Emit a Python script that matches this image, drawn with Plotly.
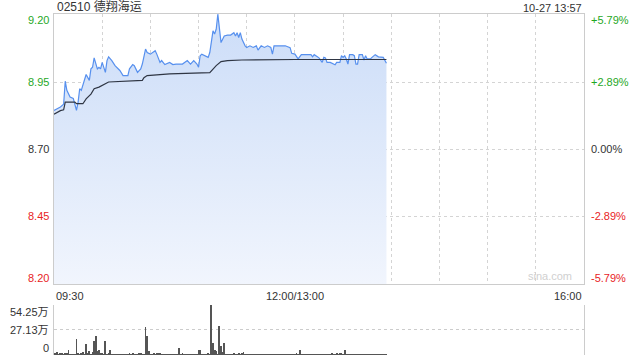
import plotly.graph_objects as go

# ---------------- data ----------------
title_text = "02510 德翔海运"
stamp_text = "10-27 13:57"
prev_close = 8.70

price_times = ["09:30","09:32","09:34","09:36","09:37","09:38","09:40","09:42","09:43","09:44",
               "09:45","09:46","09:47","09:49","09:50","09:52","09:53","09:54","09:55","09:57",
               "09:58","09:59","10:00","10:02","10:03","10:04","10:06","10:08","10:11","10:13",
               "10:16","10:17","10:19","10:20","10:22","10:24","10:25","10:27","10:28","10:30",
               "10:33","10:34","10:36","10:37","10:39","10:42","10:44","10:46","10:50","10:53",
               "10:55","10:57","10:59","11:00","11:01","11:02","11:04","11:06","11:07","11:09",
               "11:10","11:11","11:12","11:13","11:14","11:16","11:18","11:20","11:21","11:22",
               "11:23","11:24","11:25","11:26","11:27","11:29","11:30","11:32","11:34","11:36",
               "11:37","11:39","11:41","11:43","11:45","11:46","11:47","11:51","11:54","11:57",
               "11:58","12:00","13:02","13:04","13:06","13:10","13:11","13:12","13:14","13:15",
               "13:17","13:18","13:19","13:20","13:22","13:23","13:25","13:26","13:28","13:29",
               "13:30","13:31","13:32","13:33","13:34","13:36","13:37","13:38","13:39","13:40",
               "13:42","13:43","13:44","13:45","13:47","13:48","13:50","13:52","13:54","13:55",
               "13:57"]
price_values = [8.844,8.849,8.857,8.867,8.953,8.919,8.894,8.889,8.869,8.844,
                8.875,8.925,8.919,8.956,8.978,8.956,8.999,9.005,9.040,8.999,
                9.005,8.999,9.023,8.986,9.030,9.044,9.030,9.011,8.993,8.974,
                8.974,8.999,9.015,9.011,8.986,8.999,9.017,9.073,9.060,9.054,
                9.067,9.054,9.023,9.030,9.015,9.023,9.015,9.017,9.017,9.030,
                9.017,9.030,9.017,9.005,9.048,9.054,9.048,9.042,9.060,9.141,
                9.129,9.147,9.203,9.134,9.097,9.122,9.125,9.125,9.129,9.134,
                9.122,9.134,9.116,9.134,9.110,9.085,9.079,9.085,9.079,9.085,
                9.069,9.085,9.079,9.085,9.079,9.054,9.085,9.085,9.085,9.078,
                9.057,9.054,9.036,9.052,9.052,9.052,9.044,9.052,9.044,9.040,
                9.023,9.042,9.040,9.023,9.023,9.020,9.014,9.023,9.023,9.048,
                9.042,9.048,9.036,9.017,9.052,9.052,9.048,9.017,9.017,9.052,
                9.052,9.032,9.048,9.036,9.036,9.042,9.052,9.044,9.044,9.042,
                9.020]

avg_times = ["09:30","09:34","09:36","09:37","09:43","09:44","09:48","09:50","09:53","09:55",
             "09:58","10:04","10:25","10:26","10:28","10:42","11:07","11:09","11:11","11:14",
             "11:18","11:27","11:45","12:00","13:57"]
avg_values = [8.830,8.843,8.846,8.875,8.875,8.869,8.869,8.887,8.905,8.925,
              8.931,8.950,8.956,8.966,8.974,8.980,8.985,9.000,9.011,9.026,
              9.030,9.032,9.033,9.034,9.034]

# per-minute volume (万), from 09:30 onwards (morning then 13:00 onwards)
volume_wan = [1.2,1.8,3.7,1.0,2.2,1.8,0.8,1.1,2.6,5.9,
              0.9,0.7,1.0,0.8,16.9,1.2,0.9,1.4,3.7,1.0,
              11.7,1.3,4.0,0.9,3.7,15.0,20.2,4.0,5.9,2.6,
              1.1,0.8,14.7,1.0,1.8,5.9,0.9,0.6,0.8,0.7,
              0.6,0.9,0.5,0.8,0.7,0.6,1.0,1.8,0.7,1.8,
              0.9,0.6,0.8,1.1,2.6,0.7,1.0,30.4,20.2,4.8,
              0.8,0.6,1.8,0.9,1.1,1.8,2.6,0.7,0.5,0.8,
              0.6,0.7,0.9,0.5,0.6,0.8,0.7,0.6,8.1,0.9,
              1.8,0.7,0.6,0.8,0.5,0.7,0.6,0.9,0.8,0.7,
              5.9,5.9,0.8,0.6,0.9,0.7,1.8,0.9,54.25,12.5,
              5.9,4.8,0.8,31.2,10.3,3.7,12.5,1.0,0.9,0.7,
              0.8,0.6,2.6,0.9,0.7,2.2,0.8,2.6,3.7,0.9,
              0.6,0.8,0.7,0.5,0.9,0.6,0.8,0.7,0.5,0.6,
              0.8,0.7,0.9,0.6,0.5,0.7,0.8,0.6,0.7,0.5,
              0.6,0.8,0.7,0.5,0.6,0.9,0.7,0.6,0.8,0.7,
              0.9,2.6,0.7,5.9,0.8,0.6,0.7,0.5,0.8,0.6,
              0.7,0.5,0.6,0.8,0.7,0.6,0.5,0.7,0.8,0.6,
              0.7,0.5,0.6,1.8,0.7,0.8,2.2,0.6,2.6,1.8,
              0.7,5.9,0.6,0.8,0.7,0.5,0.6,0.8,0.7,0.6,
              0.5,0.7,0.6,0.8,0.5,0.7,0.6,0.5,0.7,0.6,
              0.8,0.5,0.6,0.7,0.5,0.6,0.7,0.5]

price_ticks = [9.20, 8.95, 8.70, 8.45, 8.20]
pct_labels = ["+5.79%", "+2.89%", "0.00%", "-2.89%", "-5.79%"]
vol_ticks = [54.25, 27.13, 0]
vol_labels = ["54.25万", "27.13万", "0"]
x_tick_labels = ["09:30", "12:00/13:00", "16:00"]
x_tick_pos = [0, 150, 330]


def tmin(s):
    h, m = map(int, s.split(":"))
    t = h * 60 + m
    if t <= 12 * 60:
        return t - (9 * 60 + 30)
    return 150 + t - 13 * 60


px = [tmin(t) for t in price_times]
ax = [tmin(t) for t in avg_times]
vx = list(range(len(volume_wan)))

half = 0.5037
ymin, ymax = prev_close - half, prev_close + half

GREEN = "#1fa81f"
RED = "#e8231e"
DARK = "#333333"
FONT = "Liberation Sans, Arial, Noto Sans CJK SC, sans-serif"

fig = go.Figure()
# baseline for fill
fig.add_trace(go.Scatter(x=[px[0], px[-1]], y=[ymin, ymin], mode="lines",
                         line=dict(width=0), showlegend=False, hoverinfo="skip",
                         xaxis="x", yaxis="y"))
fig.add_trace(go.Scatter(x=px, y=price_values, mode="lines", fill="tonexty",
                         fillgradient=dict(type="vertical",
                                           colorscale=[[0, "rgb(241,245,253)"], [1, "rgb(204,221,248)"]],
                                           start=ymin, stop=9.20),
                         line=dict(color="#5790ee", width=1.2), showlegend=False,
                         xaxis="x", yaxis="y"))
fig.add_trace(go.Scatter(x=ax, y=avg_values, mode="lines",
                         line=dict(color="#2f3644", width=1.2), showlegend=False,
                         xaxis="x", yaxis="y"))
fig.add_trace(go.Bar(x=vx, y=volume_wan, width=0.55, marker=dict(color="#555555", line=dict(width=0)),
                     showlegend=False, xaxis="x2", yaxis="y2"))

main_bottom = 0.2082
vol_top = 0.1466

fig.update_layout(
    width=640, height=360,
    margin=dict(l=54, r=56, t=14, b=5),
    paper_bgcolor="white", plot_bgcolor="white",
    hovermode=False, bargap=0,
    font=dict(family=FONT, size=11, color=DARK),
    xaxis=dict(range=[0, 330], domain=[0, 1], anchor="y",
               tickvals=list(range(30, 330, 30)), showticklabels=False, ticks="",
               showgrid=True, gridcolor="#d4d4d4", griddash="dot", gridwidth=1,
               showline=True, mirror=True, linecolor="#cccccc", linewidth=1, zeroline=False),
    yaxis=dict(range=[ymin, ymax], domain=[main_bottom, 1], anchor="x",
               tickvals=[8.45, 8.70, 8.95], showticklabels=False, ticks="",
               showgrid=True, gridcolor="#d4d4d4", griddash="dot", gridwidth=1,
               showline=True, mirror=True, linecolor="#cccccc", linewidth=1, zeroline=False),
    xaxis2=dict(range=[0, 330], domain=[0, 1], anchor="y2", showticklabels=False, ticks="",
                showgrid=False, showline=False, zeroline=False),
    yaxis2=dict(range=[0, 54.25], domain=[0, vol_top], anchor="x2",
                tickvals=[0, 27.13, 54.25], showticklabels=False, ticks="",
                showgrid=True, gridcolor="#cccccc", griddash="dot", gridwidth=1,
                showline=True, mirror=True, linecolor="#cccccc", linewidth=1, zeroline=False),
)

ann = []
ann.append(dict(text=title_text, x=0.002, y=1, xref="paper", yref="paper", xanchor="left", yanchor="bottom",
                yshift=-2, showarrow=False, font=dict(size=12, color=DARK)))
ann.append(dict(text=stamp_text, x=1, y=1, xref="paper", yref="paper", xanchor="right", yanchor="bottom",
                yshift=-2, showarrow=False, font=dict(size=11, color=DARK)))

shifts = [-5, 0, 0, 0, 5]
for i, (v, p) in enumerate(zip(price_ticks, pct_labels)):
    col = GREEN if v > prev_close else (RED if v < prev_close else DARK)
    ann.append(dict(text=f"{v:.2f}", x=0, y=v, xref="paper", yref="y", xanchor="right", yanchor="middle",
                    xshift=-3, yshift=shifts[i], showarrow=False, font=dict(size=11, color=col)))
    ann.append(dict(text=p, x=1, y=v, xref="paper", yref="y", xanchor="left", yanchor="middle",
                    xshift=5, yshift=shifts[i], showarrow=False, font=dict(size=11, color=col)))

vshifts = [-7, 0, 7]
for v, lab, s in zip(vol_ticks, vol_labels, vshifts):
    ann.append(dict(text=lab, x=0, y=v, xref="paper", yref="y2", xanchor="right", yanchor="middle",
                    xshift=-3, yshift=s, showarrow=False, font=dict(size=11, color=DARK)))

anchors = ["left", "center", "right"]
for lab, pos, a in zip(x_tick_labels, x_tick_pos, anchors):
    ann.append(dict(text=lab, x=pos, y=main_bottom, xref="x", yref="paper", xanchor=a, yanchor="top",
                    yshift=-4, showarrow=False, font=dict(size=11, color=DARK)))

ann.append(dict(text="sina.com", x=1, y=ymin, xref="paper", yref="y", xanchor="right", yanchor="bottom",
                xshift=-10, yshift=0, showarrow=False, font=dict(size=11, color="#d0d0d0")))

fig.update_layout(annotations=ann)
fig.write_html("out.html")
